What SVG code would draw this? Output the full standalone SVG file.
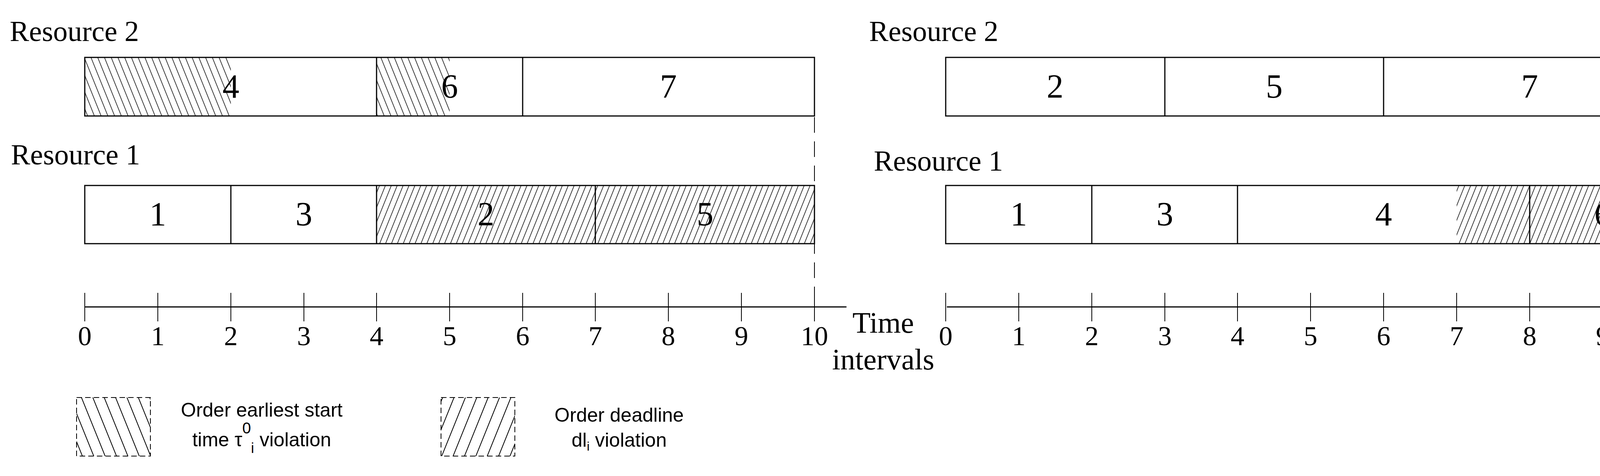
<svg xmlns="http://www.w3.org/2000/svg" width="4414" height="1219" viewBox="0 0 4414 1219">
<style>
.s{font-family:"Liberation Serif","Times New Roman",serif;fill:#000}
.res{font-size:74px}
.num{font-size:86px;text-anchor:middle}
.tk{font-size:70px;text-anchor:middle}
.lg{font-family:"Liberation Sans",Arial,sans-serif;font-size:50px;text-anchor:middle;fill:#000}
.bar{fill:none;stroke:#000;stroke-width:3}
.ln{stroke:#000;stroke-width:3}
.tick{stroke:#000;stroke-width:2}
.dash{stroke:#000;stroke-width:2;stroke-dasharray:40,22;fill:none}
</style>
<defs>
<pattern id="bs" width="16" height="16" patternUnits="userSpaceOnUse" patternTransform="rotate(-22)">
<line x1="0" y1="0" x2="0" y2="16" stroke="#000" stroke-width="3"/></pattern>
<pattern id="fs" width="14" height="14" patternUnits="userSpaceOnUse" patternTransform="rotate(22)">
<line x1="0" y1="0" x2="0" y2="14" stroke="#000" stroke-width="3"/></pattern>
<pattern id="bsL" width="27" height="27" patternUnits="userSpaceOnUse" patternTransform="rotate(-22)">
<line x1="0" y1="0" x2="0" y2="27" stroke="#000" stroke-width="4"/></pattern>
<pattern id="fsL" width="27" height="27" patternUnits="userSpaceOnUse" patternTransform="rotate(22)">
<line x1="0" y1="0" x2="0" y2="27" stroke="#000" stroke-width="4"/></pattern>
</defs>
<rect width="4414" height="1219" fill="#fff"/>

<g id="left-resource2">
<text class="s res" x="25" y="105">Resource 2</text>
<rect x="217" y="147" width="374" height="150" fill="url(#bs)"/>
<rect x="964" y="147" width="187" height="150" fill="url(#bs)"/>
<rect class="bar" x="217" y="147" width="1868" height="150"/>
<line class="ln" x1="964" y1="147" x2="964" y2="297"/>
<line class="ln" x1="1338" y1="147" x2="1338" y2="297"/>
<text class="s num" x="591" y="250">4</text>
<text class="s num" x="1151" y="250">6</text>
<text class="s num" x="1711" y="250">7</text>
</g>
<g id="left-resource1">
<text class="s res" x="28" y="421">Resource 1</text>
<rect x="964" y="475" width="1121" height="149" fill="url(#fs)"/>
<rect class="bar" x="217" y="475" width="1868" height="149"/>
<line class="ln" x1="591" y1="475" x2="591" y2="624"/>
<line class="ln" x1="964" y1="475" x2="964" y2="624"/>
<line class="ln" x1="1524" y1="475" x2="1524" y2="624"/>
<text class="s num" x="404" y="577">1</text>
<text class="s num" x="778" y="577">3</text>
<text class="s num" x="1244" y="577">2</text>
<text class="s num" x="1805" y="577">5</text>
</g>
<g id="left-axis">
<line class="ln" x1="217" y1="786" x2="2167" y2="786"/>
<g class="tick">
<line x1="217" y1="750" x2="217" y2="823"/><line x1="404" y1="750" x2="404" y2="823"/>
<line x1="591" y1="750" x2="591" y2="823"/><line x1="778" y1="750" x2="778" y2="823"/>
<line x1="964" y1="750" x2="964" y2="823"/><line x1="1151" y1="750" x2="1151" y2="823"/>
<line x1="1338" y1="750" x2="1338" y2="823"/><line x1="1524" y1="750" x2="1524" y2="823"/>
<line x1="1711" y1="750" x2="1711" y2="823"/><line x1="1898" y1="750" x2="1898" y2="823"/>
<line x1="2085" y1="750" x2="2085" y2="823"/>
</g>
<text class="s tk" x="217" y="884">0</text><text class="s tk" x="404" y="884">1</text>
<text class="s tk" x="591" y="884">2</text><text class="s tk" x="778" y="884">3</text>
<text class="s tk" x="964" y="884">4</text><text class="s tk" x="1151" y="884">5</text>
<text class="s tk" x="1338" y="884">6</text><text class="s tk" x="1524" y="884">7</text>
<text class="s tk" x="1711" y="884">8</text><text class="s tk" x="1898" y="884">9</text>
<text class="s tk" x="2085" y="884">10</text>
</g>
<g id="time-label">
<text class="s tk" x="2261" y="852" style="font-size:76px">Time</text>
<text class="s tk" x="2261" y="946" style="font-size:76px">intervals</text>
</g>

<g id="right-resource2">
<text class="s res" x="2225" y="105">Resource 2</text>
<rect class="bar" x="2421" y="147" width="1869" height="150"/>
<line class="ln" x1="2982" y1="147" x2="2982" y2="297"/>
<line class="ln" x1="3542" y1="147" x2="3542" y2="297"/>
<text class="s num" x="2701" y="250">2</text>
<text class="s num" x="3262" y="250">5</text>
<text class="s num" x="3916" y="250">7</text>
</g>
<g id="right-resource1">
<text class="s res" x="2237" y="437">Resource 1</text>
<rect x="3729" y="475" width="561" height="149" fill="url(#fs)"/>
<rect class="bar" x="2421" y="475" width="1869" height="149"/>
<line class="ln" x1="2795" y1="475" x2="2795" y2="624"/>
<line class="ln" x1="3168" y1="475" x2="3168" y2="624"/>
<line class="ln" x1="3916" y1="475" x2="3916" y2="624"/>
<text class="s num" x="2608" y="577">1</text>
<text class="s num" x="2982" y="577">3</text>
<text class="s num" x="3542" y="577">4</text>
<text class="s num" x="4103" y="577">6</text>
</g>
<g id="right-axis">
<line class="ln" x1="2424" y1="786" x2="4374" y2="786"/>
<g class="tick">
<line x1="2421" y1="750" x2="2421" y2="823"/><line x1="2608" y1="750" x2="2608" y2="823"/>
<line x1="2795" y1="750" x2="2795" y2="823"/><line x1="2982" y1="750" x2="2982" y2="823"/>
<line x1="3168" y1="750" x2="3168" y2="823"/><line x1="3355" y1="750" x2="3355" y2="823"/>
<line x1="3542" y1="750" x2="3542" y2="823"/><line x1="3729" y1="750" x2="3729" y2="823"/>
<line x1="3916" y1="750" x2="3916" y2="823"/><line x1="4103" y1="750" x2="4103" y2="823"/>
<line x1="4290" y1="750" x2="4290" y2="823"/>
</g>
<text class="s tk" x="2421" y="884">0</text><text class="s tk" x="2608" y="884">1</text>
<text class="s tk" x="2795" y="884">2</text><text class="s tk" x="2982" y="884">3</text>
<text class="s tk" x="3168" y="884">4</text><text class="s tk" x="3355" y="884">5</text>
<text class="s tk" x="3542" y="884">6</text><text class="s tk" x="3729" y="884">7</text>
<text class="s tk" x="3916" y="884">8</text><text class="s tk" x="4103" y="884">9</text>
<text class="s tk" x="4290" y="884">10</text>
</g>

<g id="connectors">
<line class="dash" x1="2085" y1="300" x2="2085" y2="820"/>
<line class="dash" x1="4290" y1="300" x2="4290" y2="820"/>
</g>

<g id="legend-earliest-start">
<rect x="196" y="1018" width="189" height="150" fill="url(#bsL)"/>
<rect x="196" y="1018" width="189" height="150" fill="none" stroke="#000" stroke-width="2" stroke-dasharray="14,8"/>
<text class="lg" x="670" y="1067">Order earliest start</text>
<text class="lg" x="670" y="1143">time τ<tspan dy="-33" font-size="40">0</tspan><tspan dy="50" font-size="36">i</tspan><tspan dy="-17"> violation</tspan></text>
</g>
<g id="legend-deadline">
<rect x="1129" y="1018" width="189" height="150" fill="url(#fsL)"/>
<rect x="1129" y="1018" width="189" height="150" fill="none" stroke="#000" stroke-width="2" stroke-dasharray="14,8"/>
<text class="lg" x="1585" y="1080">Order deadline</text>
<text class="lg" x="1585" y="1144">dl<tspan dy="10" font-size="32">i</tspan><tspan dy="-10"> violation</tspan></text>
</g>
</svg>
